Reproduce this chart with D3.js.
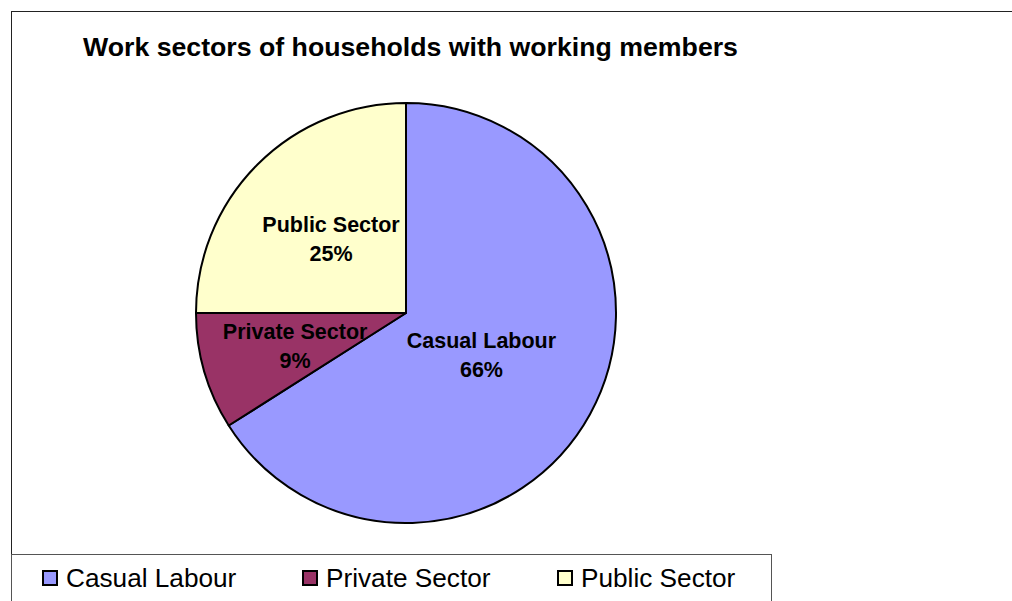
<!DOCTYPE html>
<html>
<head>
<meta charset="utf-8">
<script src="https://cdn.jsdelivr.net/npm/d3@7"></script>
<style>
  body { margin: 0; background: #fff; }
  svg { display: block; font-family: "Liberation Sans", Arial, sans-serif; }
</style>
</head>
<body>
<div id="chart"></div>
<script>
const title = "Work sectors of households with working members";
const categories = ["Casual Labour", "Private Sector", "Public Sector"];
const shares = [66, 9, 25];
const colors = ["#9999ff", "#993366", "#ffffcc"];

const width = 1012, height = 601;
const cx = 406, cy = 313, radius = 210;
// label distance from centre, as a fraction of radius (per slice)
const labelFrac = [0.41, 0.55, 0.505];

const svg = d3.select("#chart").append("svg")
  .attr("width", width)
  .attr("height", height);

// chart frame
svg.append("rect")
  .attr("x", 11.5).attr("y", 11.5)
  .attr("width", 1100).attr("height", 700)
  .attr("fill", "none")
  .attr("stroke", "#222")
  .attr("stroke-width", 1);

svg.append("text")
  .attr("x", 83)
  .attr("y", 56)
  .attr("font-size", "26.7px")
  .attr("font-weight", "bold")
  .text(title);

const data = categories.map((c, i) => ({ name: c, value: shares[i], color: colors[i], idx: i }));

const pie = d3.pie().sort(null).value(d => d.value);
const arc = d3.arc().innerRadius(0).outerRadius(radius);
const arcs = pie(data);

const g = svg.append("g").attr("transform", `translate(${cx},${cy})`);

g.selectAll("path")
  .data(arcs)
  .enter()
  .append("path")
  .attr("d", arc)
  .attr("fill", d => d.data.color)
  .attr("stroke", "#000")
  .attr("stroke-width", 2)
  .attr("stroke-linejoin", "round");

const labels = g.selectAll(".label")
  .data(arcs)
  .enter()
  .append("text")
  .attr("class", "label")
  .attr("text-anchor", "middle")
  .attr("font-size", "21.5px")
  .attr("font-weight", "bold")
  .attr("transform", d => {
    const r = radius * labelFrac[d.data.idx];
    const a = (d.startAngle + d.endAngle) / 2;
    return `translate(${Math.sin(a) * r},${-Math.cos(a) * r})`;
  });
labels.append("tspan").attr("x", 0).attr("y", -6).text(d => d.data.name);
labels.append("tspan").attr("x", 0).attr("y", 22.5).text(d => d.data.value + "%");

// legend
const legend = svg.append("g");
legend.append("rect")
  .attr("x", 11.5).attr("y", 554.5)
  .attr("width", 760).attr("height", 100)
  .attr("fill", "#fff")
  .attr("stroke", "#555")
  .attr("stroke-width", 1);

const legendX = [43, 303, 558];
const items = legend.selectAll(".item")
  .data(data)
  .enter()
  .append("g")
  .attr("transform", (d, i) => `translate(${legendX[i]},571)`);
items.append("rect")
  .attr("width", 14).attr("height", 14)
  .attr("fill", d => d.color)
  .attr("stroke", "#000")
  .attr("stroke-width", 2);
items.append("text")
  .attr("x", 23)
  .attr("y", 16)
  .attr("font-size", "26.2px")
  .text(d => d.name);
</script>
</body>
</html>
